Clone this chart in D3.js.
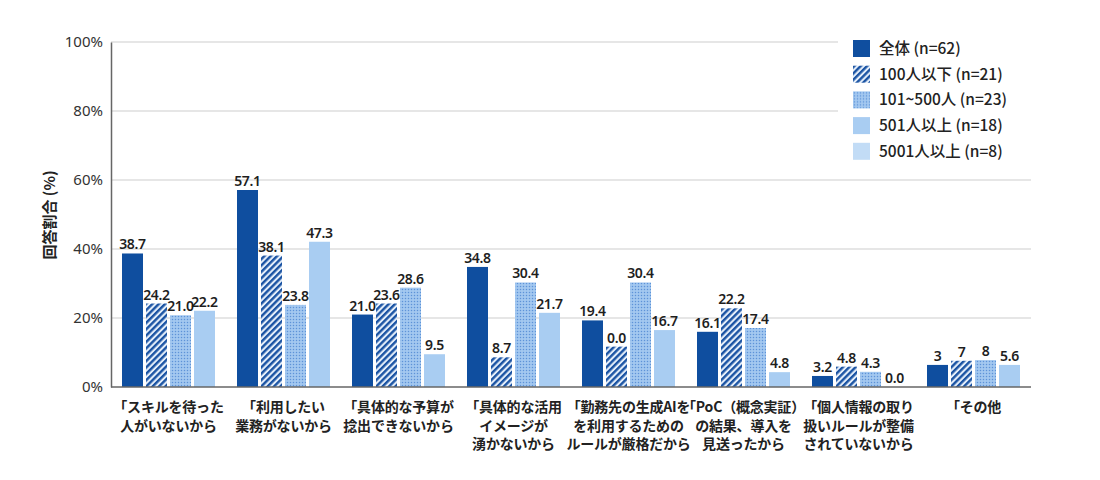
<!DOCTYPE html>
<html lang="ja">
<head>
    <meta charset="UTF-8">
    <title>回答割合</title>
    <style>
        body{ margin:0; background:#fff;}
        text{ font-family:"Noto Sans CJK JP","Noto Sans",sans-serif;}
    </style>
</head>
<body>
<script src="https://d3js.org/d3.v7.min.js"></script>
<script>

var categories = [
    ["「スキルを待った", "人がいないから"],
    ["「利用したい", "業務がないから"],
    ["「具体的な予算が", "捻出できないから"],
    ["「具体的な活用", "イメージが", "湧かないから"],
    ["「勤務先の生成AIを", "を利用するための", "ルールが厳格だから"],
    ["「PoC（概念実証）", "の結果、導入を", "見送ったから"],
    ["「個人情報の取り", "扱いルールが整備", "されていないから"],
    ["「その他"]
];

var legendNames = ["全体 (n=62)", "100人以下 (n=21)", "101~500人 (n=23)", "501人以上 (n=18)", "5001人以上 (n=8)"];

// bar heights as drawn
var zentai   = [38.7, 57.1, 21.0, 34.8, 19.3, 16.0, 3.2, 6.4];
var under100 = [24.2, 38.1, 24.2, 8.6, 11.7, 22.8, 5.9, 7.6];
var s101_500 = [20.8, 23.8, 28.8, 30.3, 30.3, 17.1, 4.4, 7.8];
var over501  = [22.1, 42.1, 9.5, 21.5, 16.5, 4.3, 0, 6.4];

// printed numbers above bars
var zentaiLbl   = ["38.7", "57.1", "21.0", "34.8", "19.4", "16.1", "3.2", "3"];
var under100Lbl = ["24.2", "38.1", "23.6", "8.7", "0.0", "22.2", "4.8", "7"];
var s101_500Lbl = ["21.0", "23.8", "28.6", "30.4", "30.4", "17.4", "4.3", "8"];
var over501Lbl  = ["22.2", "47.3", "9.5", "21.7", "16.7", "4.8", "0.0", "5.6"];

var yTicks = [0, 20, 40, 60, 80, 100];

var series = [
    { vals: zentai, lbl: zentaiLbl, fill: "#0f4e9f" },
    { vals: under100, lbl: under100Lbl, fill: "url(#hatch)" },
    { vals: s101_500, lbl: s101_500Lbl, fill: "url(#dots)" },
    { vals: over501, lbl: over501Lbl, fill: "#a9cdf2" }
];
var legendFills = ["#0f4e9f", "url(#hatch)", "url(#dots)", "#a9cdf2", "#c2dcf6"];

var svg = d3.select("body").append("svg")
        .attr("width", 1100)
        .attr("height", 480);

//patterns
var defs = svg.append("defs");
var hatch = defs.append("pattern").attr("id", "hatch")
        .attr("patternUnits", "userSpaceOnUse")
        .attr("width", 4.5).attr("height", 4.5)
        .attr("patternTransform", "rotate(45)");
hatch.append("rect").attr("width", 4.5).attr("height", 4.5).attr("fill", "#e4eefa");
hatch.append("rect").attr("width", 2.4).attr("height", 4.5).attr("fill", "#1a53a3");

var dots = defs.append("pattern").attr("id", "dots")
        .attr("patternUnits", "userSpaceOnUse")
        .attr("width", 3).attr("height", 3);
dots.append("rect").attr("width", 3).attr("height", 3).attr("fill", "#a3c8f0");
dots.append("circle").attr("cx", 1.5).attr("cy", 1.5).attr("r", 0.75).attr("fill", "#5d93d8");

var x0 = d3.scaleBand()
        .domain(d3.range(categories.length))
        .range([111, 1031]);

var x1 = d3.scaleBand()
        .domain(d3.range(series.length))
        .range([11, 104])
        .paddingInner(0.125);

var y = d3.scaleLinear().domain([0, 100]).range([387, 42]);

//grid
svg.append("g").selectAll("line")
        .data(yTicks.slice(1))
        .enter().append("line")
        .attr("x1", 111).attr("x2", 1031)
        .attr("y1", function(d){ return y(d); })
        .attr("y2", function(d){ return y(d); })
        .attr("stroke", "#dedede")
        .attr("stroke-width", 1.5);

//y axis
var yAxis = svg.append("g")
        .attr("transform", "translate(111,0)")
        .call(d3.axisLeft(y).tickValues(yTicks).tickSize(0).tickPadding(8)
            .tickFormat(function(d){ return d + "%"; }));
yAxis.select(".domain").attr("stroke", "#666").attr("stroke-width", 1.5);
yAxis.selectAll("text").attr("font-size", 15).attr("fill", "#333")
        .style("font-family", "'Noto Sans','Noto Sans CJK JP',sans-serif");

svg.append("text")
        .attr("transform", "translate(55,215) rotate(-90)")
        .attr("text-anchor", "middle")
        .attr("font-size", 15)
        .attr("font-weight", 700)
        .attr("fill", "#222")
        .text("回答割合 (%)");

//bars
var groups = svg.append("g").selectAll("g")
        .data(categories)
        .enter().append("g")
        .attr("transform", function(d, i){ return "translate(" + x0(i) + ",0)"; });

series.forEach(function(s, si){
    groups.append("rect")
        .attr("x", x1(si))
        .attr("width", x1.bandwidth())
        .attr("y", function(d, i){ return y(s.vals[i]); })
        .attr("height", function(d, i){ return y(0) - y(s.vals[i]); })
        .attr("fill", s.fill);

    groups.append("text")
        .attr("x", x1(si) + x1.bandwidth() / 2)
        .attr("y", function(d, i){ return y(s.vals[i]) - 4; })
        .attr("text-anchor", "middle")
        .attr("font-size", 14)
        .attr("font-weight", 600)
        .attr("letter-spacing", "-0.3px")
        .attr("fill", "#1e1e1e")
        .style("font-family", "'Noto Sans','Noto Sans CJK JP',sans-serif")
        .text(function(d, i){ return s.lbl[i]; });
});

//x axis line
svg.append("line")
        .attr("x1", 111).attr("x2", 1031)
        .attr("y1", y(0)).attr("y2", y(0))
        .attr("stroke", "#666").attr("stroke-width", 1.5);

//category labels
groups.append("text")
        .attr("text-anchor", "middle")
        .attr("font-size", 14)
        .attr("font-weight", 700)
        .attr("fill", "#222")
        .attr("letter-spacing", "-0.2px")
        .selectAll("tspan")
        .data(function(d){ return d; })
        .enter().append("tspan")
        .attr("x", 57.5)
        .attr("y", function(d, i){ return 412 + i * 18.5; })
        .text(function(d){ return d; });

//legend
var legend = svg.append("g");
legend.append("rect")
        .attr("x", 838).attr("y", 33)
        .attr("width", 205).attr("height", 135)
        .attr("fill", "#fff");

var items = legend.selectAll(".item")
        .data(legendNames)
        .enter().append("g")
        .attr("transform", function(d, i){ return "translate(853," + (40 + i * 25.7) + ")"; });

items.append("rect")
        .attr("width", 17).attr("height", 17)
        .attr("fill", function(d, i){ return legendFills[i]; });

items.append("text")
        .attr("x", 26).attr("y", 14)
        .attr("font-size", 15.5)
        .attr("font-weight", 500)
        .attr("fill", "#222")
        .text(function(d){ return d; });

</script>
</body>
</html>
